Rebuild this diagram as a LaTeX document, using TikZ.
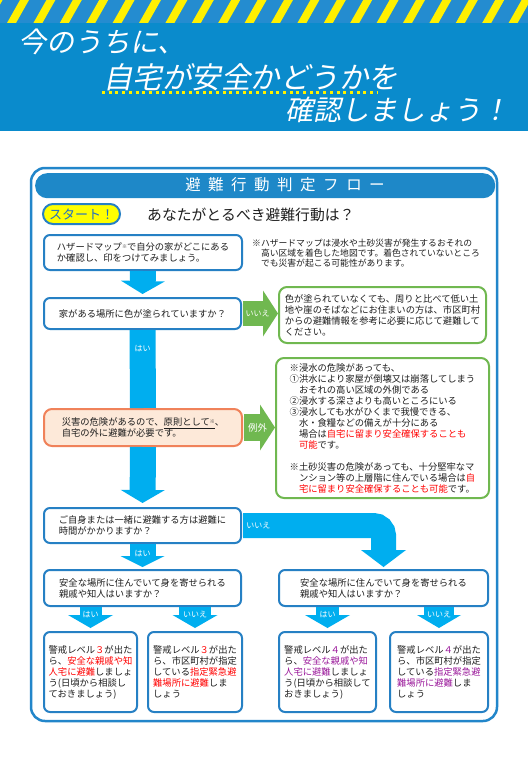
\documentclass[tikz,border=0pt]{standalone}
\usepackage{fontspec}
\setmainfont{Noto Sans CJK JP}
\newfontfamily\slantjp[FakeSlant=0.2]{Noto Sans CJK JP}
\usetikzlibrary{arrows.meta,calc}

\definecolor{bandblue}{RGB}{10,139,204}
\definecolor{stripeblue}{RGB}{36,140,208}
\definecolor{stripeyellow}{RGB}{255,240,0}
\definecolor{frameblue}{RGB}{34,134,202}
\definecolor{headblue}{RGB}{30,136,200}
\definecolor{boxblue}{RGB}{38,128,196}
\definecolor{flowcyan}{RGB}{0,174,239}
\definecolor{grn}{RGB}{112,184,80}
\definecolor{peach}{RGB}{253,233,217}
\definecolor{pinkline}{RGB}{240,130,90}
\definecolor{startyellow}{RGB}{255,255,0}
\definecolor{startblue}{RGB}{30,110,200}
\definecolor{levelpurple}{RGB}{155,25,155}
\definecolor{inktext}{RGB}{30,30,30}

\newcommand\bodyfont{\fontsize{9.3}{11}\selectfont}
\newcommand\redtxt[1]{\textcolor{red}{#1}}
\newcommand\purtxt[1]{\textcolor{levelpurple}{#1}}
\newcommand\kome{\raisebox{2.5pt}{\fontsize{5}{5}\selectfont ※}}

\begin{document}
\begin{tikzpicture}[x=1pt, y=-1pt,
  title/.style={text=white, font=\slantjp\fontsize{28}{28}\selectfont, inner sep=0pt},
  qbox/.style={draw=boxblue, line width=2pt, rounded corners=6pt, fill=white,
    align=left, inner sep=0pt, font=\bodyfont, text=inktext, anchor=north west},
  grnbox/.style={qbox, draw=grn, rounded corners=8pt},
  pinkbox/.style={qbox, draw=pinkline, fill=peach, rounded corners=8pt},
  flow/.style={draw=flowcyan, line width=26pt,
    -{Triangle[width=44pt,length=13pt,line width=0pt]}},
  grnflow/.style={draw=grn, line width=25pt,
    -{Triangle[width=46pt,length=15pt,line width=0pt]}},
  lbl/.style={text=white, font=\fontsize{8}{8}\selectfont, inner sep=0pt},
]
\useasboundingbox (0,0) rectangle (528,768);
\fill[white] (0,0) rectangle (528,768);

% Top band with stripes
\fill[bandblue] (0,0) rectangle (528,131);
\fill[stripeblue] (0,0) rectangle (528,23);
\begin{scope}
  \clip (0,0) rectangle (528,23);
  \foreach \i in {-1,...,20}
    \fill[stripeyellow] ({20+26.4*\i},0) -- ({29+26.4*\i},0)
      -- ({16+26.4*\i},23) -- ({7+26.4*\i},23) -- cycle;
\end{scope}

% Title
\node[title, anchor=west] (line1) at (18,42) {今のうちに、};
\node[title, anchor=west, font=\slantjp\fontsize{29.5}{29.5}\selectfont] (line2) at (103,77) {自宅が安全かどうかを};
\draw[stripeyellow, line width=3pt, dash pattern=on 3pt off 3.7pt] (102,92) -- (378,92);
\node[title, anchor=east] (line3) at (510,110) {確認しましょう！};

% Frame and header
\draw[frameblue, line width=2.5pt, rounded corners=14pt] (31,168) rectangle (497,721);
\node[fill=headblue, rounded corners=12pt, minimum width=460pt, minimum height=25pt,
  inner sep=0pt, anchor=north west] (head) at (35,173) {};
\node[text=white, font=\fontsize{15.5}{16}\selectfont, inner sep=0pt] (headtext) at (285,185)
  {避\hspace{7.5pt}難\hspace{7.5pt}行\hspace{7.5pt}動\hspace{7.5pt}判\hspace{7.5pt}定\hspace{7.5pt}フ\hspace{7.5pt}ロ\hspace{7.5pt}ー};

\node[fill=startyellow, draw=boxblue, line width=2pt, rounded corners=10pt,
  minimum width=77pt, minimum height=20pt, inner sep=0pt, text=startblue,
  font=\fontsize{13}{13}\selectfont, anchor=north west] (start) at (42,203) {スタート！};
\node[anchor=west, inner sep=0pt, text=inktext, font=\fontsize{14.8}{15}\selectfont]
  (question) at (147,215) {あなたがとるべき避難行動は？};

% Question boxes
\node[qbox, minimum width=198pt, minimum height=35pt] (hazard) at (43,234)
  {ハザードマップ\kome で自分の家がどこにある\\か確認し、印をつけてみましょう。};
\node[anchor=north west, inner sep=0pt, align=left, text=inktext,
  font=\fontsize{8.8}{10}\selectfont] (note) at (252,239)
  {※ハザードマップは浸水や土砂災害が発生するおそれの\\
   　高い区域を着色した地図です。着色されていないところ\\
   　でも災害が起こる可能性があります。};

\node[qbox, minimum width=197pt, minimum height=31pt] (q1) at (43,297)
  {家がある場所に色が塗られていますか？};
\node[grnbox, minimum width=207pt, minimum height=56pt] (green1) at (278,286)
  {色が塗られていなくても、周りと比べて低い土\\
   地や崖のそばなどにお住まいの方は、市区町村\\
   からの避難情報を参考に必要に応じて避難して\\
   ください。};

\node[pinkbox, minimum width=198pt, minimum height=37pt] (pink) at (43,408)
  {災害の危険があるので、\underline{原則として\kome}、\\自宅の外に避難が必要です。};
\node[grnbox, minimum width=213pt, minimum height=140pt] (green2) at (275,357)
  {※浸水の危険があっても、\\
   ①洪水により家屋が倒壊又は崩落してしまう\\
   　おそれの高い区域の外側である\\
   ②浸水する深さよりも高いところにいる\\
   ③浸水しても水がひくまで我慢できる、\\
   　水・食糧などの備えが十分にある\\
   　場合は\redtxt{自宅に留まり安全確保することも}\\
   　\redtxt{可能}です。\\[11pt]
   ※土砂災害の危険があっても、十分堅牢なマ\\
   　ンション等の上層階に住んでいる場合は\redtxt{自}\\
   　\redtxt{宅に留まり安全確保することも可能}です。};

\node[qbox, minimum width=197pt, minimum height=35pt] (q3) at (43,507)
  {ご自身または一緒に避難する方は避難に\\時間がかかりますか？};
\node[qbox, minimum width=197pt, minimum height=36pt] (q4L) at (43,569)
  {安全な場所に住んでいて身を寄せられる\\親戚や知人はいますか？};
\node[qbox, minimum width=209pt, minimum height=36pt] (q4R) at (278,569)
  {安全な場所に住んでいて身を寄せられる\\親戚や知人はいますか？};

% Answer boxes
\node[qbox, minimum width=93pt, minimum height=80pt] (ansA) at (43,631)
  {警戒レベル\redtxt{３}が出た\\ら、\redtxt{安全な親戚や知}\\\redtxt{人宅に避難}しましょ\\う(日頃から相談し\\ておきましょう)};
\node[qbox, minimum width=94pt, minimum height=80pt] (ansB) at (147,631)
  {警戒レベル\redtxt{３}が出た\\ら、市区町村が指定\\している\redtxt{指定緊急避}\\\redtxt{難場所に避難}しま\\しょう};
\node[qbox, minimum width=97pt, minimum height=80pt] (ansC) at (278,631)
  {警戒レベル\purtxt{４}が出た\\ら、\purtxt{安全な親戚や知}\\\purtxt{人宅に避難}しましょ\\う(日頃から相談して\\おきましょう)};
\node[qbox, minimum width=98pt, minimum height=80pt] (ansD) at (389,631)
  {警戒レベル\purtxt{４}が出た\\ら、市区町村が指定\\している\purtxt{指定緊急避}\\\purtxt{難場所に避難}しま\\しょう};

% Flow arrows
\draw[flow, shorten >=3pt] (hazard.south) -- (q1.north);
\draw[flow, -] (q1.south) -- node[lbl, pos=0.24] (yes1) {はい} (pink.north);
\draw[flow, shorten >=4pt] (pink.south) -- (q3.north);
\draw[grnflow] ([xshift=1pt]q1.east) -- node[lbl, pos=0.42] (no1) {いいえ} (q1.east -| green1.west);
\draw[grnflow, line width=27pt] ([xshift=1pt]pink.east) -- node[lbl, pos=0.44,
  font=\fontsize{9.5}{9.5}\selectfont] (except) {例外} (pink.east -| green2.west);

\draw[flow, -{Triangle[width=44pt,length=11pt,line width=0pt]}, shorten >=2pt]
  (q3.south) -- node[lbl, pos=0.37] (yes3) {はい} (q4L.north);
\draw[flow, line width=25pt, rounded corners=10pt,
  -{Triangle[width=45pt,length=17pt,line width=0pt]}, shorten >=2pt]
  ([xshift=1pt]q3.east) -- node[lbl, pos=0.11] (no3) {いいえ} (q3.east -| q4R.north) -- (q4R.north);

% Level arrows
\draw[flow, line width=22pt, -{Triangle[width=45pt,length=13pt,line width=0pt]}, shorten >=3pt]
  (q4L.south -| ansA.north) -- node[lbl, pos=0.3] (yesA) {はい} (ansA.north);
\draw[flow, line width=32pt, -{Triangle[width=45pt,length=13pt,line width=0pt]}, shorten >=3pt]
  (q4L.south -| ansB.north) -- node[lbl, pos=0.3] (noB) {いいえ} (ansB.north);
\draw[flow, line width=23pt, -{Triangle[width=45pt,length=13pt,line width=0pt]}, shorten >=3pt]
  (q4R.south -| ansC.north) -- node[lbl, pos=0.3] (yesC) {はい} (ansC.north);
\draw[flow, line width=30pt, -{Triangle[width=44pt,length=13pt,line width=0pt]}, shorten >=3pt]
  (q4R.south -| ansD.north) -- node[lbl, pos=0.3] (noD) {いいえ} (ansD.north);

\end{tikzpicture}
\end{document}
